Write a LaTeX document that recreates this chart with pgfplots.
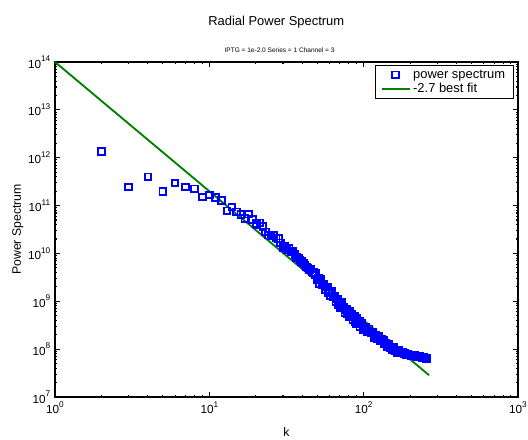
\documentclass[border=0pt]{standalone}
\usepackage{fontspec}
\setmainfont{Liberation Sans}
\usepackage{pgfplots}
\pgfplotsset{compat=1.18}
\usetikzlibrary{calc}
\definecolor{specblue}{RGB}{0,0,255}
\definecolor{fitgreen}{RGB}{0,128,0}
\newcommand{\ex}[1]{10\raisebox{0.55em}{\fontsize{6.2}{6}\selectfont #1}}
\pgfplotsset{
  markleg/.style={legend image code/.code={\draw[##1] plot coordinates {(10.5pt,0pt)};}},
  lineleg/.style={legend image code/.code={\draw[##1] (0pt,0pt) -- (21pt,0pt);}},
}

% radial power spectrum, k vs P(k)
\pgfplotstableread{
k P
2 1.35e12
3 2.45e11
4 3.98e11
5 1.95e11
6 2.95e11
7 2.45e11
8 2.24e11
9 1.51e11
10 1.66e11
11 1.48e11
12 1.26e11
13 7.76e10
14 9.33e10
15 7.41e10
16 6.46e10
17 5.37e10
18 6.61e10
19 5.13e10
20 4.17e10
20.3 3.98e10
21.3 4.37e10
22.2 3.63e10
23.2 2.82e10
24.2 2.40e10
25.1 2.29e10
26.1 2.34e10
27.1 2.09e10
28.0 2.04e10
29.0 1.66e10
30.0 1.32e10
30.9 1.38e10
31.9 1.20e10
32.9 1.26e10
33.8 1.07e10
34.8 1.12e10
35.8 9.55e9
36.7 8.32e9
37.7 7.94e9
38.7 7.24e9
39.6 6.76e9
40.6 6.31e9
41.6 5.75e9
42.5 5.25e9
43.5 5.01e9
44.5 4.57e9
45.4 4.68e9
46.4 4.07e9
47.4 3.98e9
48.4 3.63e9
48.9 3.80e9
49.8 2.88e9
50.8 3.09e9
51.7 2.34e9
52.7 2.95e9
53.6 2.24e9
54.6 2.21e9
55.5 2.29e9
56.5 1.76e9
57.4 2.00e9
58.4 1.97e9
59.3 1.51e9
60.3 1.64e9
61.2 1.29e9
62.2 1.64e9
63.2 1.26e9
64.1 1.24e9
65.1 1.29e9
66.0 9.89e8
67.0 1.12e9
67.9 1.11e9
68.9 8.51e8
69.8 9.33e8
70.8 7.41e8
71.7 9.44e8
72.7 7.24e8
73.6 7.30e8
74.6 7.59e8
75.5 5.89e8
76.5 6.76e8
77.4 6.84e8
78.4 5.37e8
79.3 5.96e8
80.3 4.79e8
81.2 6.24e8
82.2 4.90e8
83.1 4.95e8
84.1 5.25e8
85.0 4.12e8
86.0 4.79e8
86.9 4.84e8
87.9 3.80e8
88.8 4.22e8
89.8 3.39e8
90.7 4.42e8
91.7 3.47e8
92.6 3.55e8
93.6 3.80e8
94.5 2.99e8
95.5 3.47e8
97.2 3.39e8
100.1 2.57e8
102.9 2.82e8
105.7 2.34e8
108.5 2.66e8
111.4 2.19e8
114.2 2.29e8
117.1 1.76e8
119.9 1.95e8
122.7 1.64e8
125.5 1.86e8
128.4 1.53e8
131.2 1.62e8
134.1 1.51e8
136.9 1.29e8
139.7 1.32e8
142.5 1.15e8
145.4 1.26e8
148.2 1.07e8
151.1 1.11e8
153.9 9.77e7
156.6 1.08e8
159.4 9.33e7
162.3 9.66e7
165.1 8.61e7
168.0 9.44e7
170.8 8.61e7
173.5 8.81e7
176.3 8.22e7
179.2 8.41e7
182.0 8.04e7
184.9 8.04e7
187.7 7.67e7
190.3 7.76e7
193.2 7.67e7
196.0 7.59e7
198.9 7.53e7
201.7 7.48e7
204.6 7.43e7
207.2 7.38e7
210.0 7.33e7
212.9 7.28e7
215.7 7.23e7
218.5 7.18e7
221.4 7.13e7
224.0 7.08e7
226.8 7.03e7
229.6 6.98e7
232.5 6.92e7
235.3 6.85e7
238.1 6.79e7
240.7 6.73e7
243.6 6.67e7
246.4 6.61e7
249.2 6.55e7
252.0 6.49e7
254.9 6.43e7
257.7 6.37e7
}\spectrum

\pgfplotstableread{
k P
1 1e14
265 2.86e7
}\bestfit

\begin{document}
\begin{tikzpicture}
\begin{loglogaxis}[
  scale only axis, width=347.25pt, height=251.25pt,
  xmin=1, xmax=1000, ymin=1e7, ymax=1e14,
  clip=false,
  axis line style={line width=1.3pt},
  tick style={black, line width=0.8pt},
  major tick length=3.5pt, minor tick length=1.8pt,
  xtick={1,10,100,1000},
  xticklabels={\ex{0},\ex{1},\ex{2},\ex{3}},
  minor xtick={2,3,4,5,6,7,8,9,20,30,40,50,60,70,80,90,200,300,400,500,600,700,800,900},
  ytick={1e7,1e8,1e9,1e10,1e11,1e12,1e13,1e14},
  yticklabels={\ex{7},\ex{8},\ex{9},\ex{10},\ex{11},\ex{12},\ex{13},\ex{14}},
  minor ytick={2e7,3e7,4e7,5e7,6e7,7e7,8e7,9e7,
    2e8,3e8,4e8,5e8,6e8,7e8,8e8,9e8,
    2e9,3e9,4e9,5e9,6e9,7e9,8e9,9e9,
    2e10,3e10,4e10,5e10,6e10,7e10,8e10,9e10,
    2e11,3e11,4e11,5e11,6e11,7e11,8e11,9e11,
    2e12,3e12,4e12,5e12,6e12,7e12,8e12,9e12,
    2e13,3e13,4e13,5e13,6e13,7e13,8e13,9e13},
  tick label style={font=\fontsize{8.8}{10}\selectfont},
  xlabel={k}, ylabel={Power Spectrum},
  label style={font=\fontsize{9.2}{11}\selectfont},
  xlabel style={at={(axis description cs:0.5,-0.104)}, anchor=center},
  ylabel style={at={(axis description cs:-0.08,0.5)}, anchor=center},
  legend style={at={(axis description cs:0.991,0.991)}, anchor=north east,
    draw=black, line width=1pt, font=\fontsize{9.7}{11}\selectfont,
    inner xsep=4pt, inner ysep=1pt, row sep=-1.5pt, cells={anchor=west}},
]
\addplot[only marks, mark=square, mark size=2.5pt, specblue, line width=1.4pt, markleg]
  table[x=k, y=P] {\spectrum};
\addlegendentry{power spectrum}
\addplot[fitgreen, line width=1.4pt, lineleg]
  table[x=k, y=P] {\bestfit};
\addlegendentry{-2.7 best fit}
\node[font=\fontsize{9.7}{11}\selectfont] at (axis description cs:0.478,1.12) {Radial Power Spectrum};
\node[font=\fontsize{4.9}{6}\selectfont] at (axis description cs:0.485,1.036) {IPTG = 1e-2.0 Series = 1 Channel = 3};
\end{loglogaxis}
\pgfresetboundingbox
\path ($(current axis.south west)+(-41.25pt,-31.5pt)$) rectangle ($(current axis.north east)+(7.5pt,46.5pt)$);
\end{tikzpicture}
\end{document}
